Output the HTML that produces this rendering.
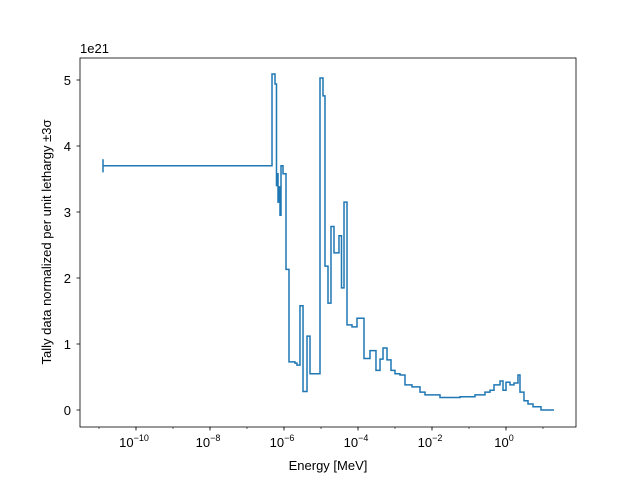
<!DOCTYPE html>
<html><head><meta charset="utf-8"><style>
body{margin:0;background:#fff}
svg text{font-family:"Liberation Sans","DejaVu Sans",sans-serif;fill:#000}
</style></head><body>
<svg id="chart" width="640" height="480" viewBox="0 0 640 480" xmlns="http://www.w3.org/2000/svg">
<rect x="0" y="0" width="640" height="480" fill="#fff"/>
<g id="ticks"></g>
<path id="series" fill="none" stroke="#1f77b4" stroke-width="1.5" stroke-linejoin="miter"/>
<rect x="80" y="58" width="496" height="369" fill="none" stroke="#000" stroke-width="0.8"/>
<text x="80" y="53" font-size="13">1e21</text>
<text x="328" y="470" font-size="13" text-anchor="middle">Energy [MeV]</text>
<text transform="translate(51,242) rotate(-90)" font-size="13" text-anchor="middle">Tally data normalized per unit lethargy ±3σ</text>
</svg>
<script>
const edgesLog = [-10.892,-6.324,-6.243,-6.203,-6.176,-6.162,-6.135,-6.108,-6.081,-6.027,-5.946,-5.865,-5.703,-5.649,-5.568,-5.486,-5.378,-5.297,-5.027,-4.946,-4.892,-4.811,-4.730,-4.649,-4.514,-4.446,-4.378,-4.297,-4.162,-4.027,-3.919,-3.838,-3.676,-3.514,-3.405,-3.324,-3.216,-3.108,-3.0,-2.865,-2.730,-2.541,-2.324,-2.189,-1.784,-1.243,-0.838,-0.568,-0.432,-0.324,-0.162,-0.081,0,0.108,0.216,0.324,0.378,0.486,0.595,0.730,0.946,1.297];
const values = [3.70,5.09,4.94,3.4,3.58,3.15,3.38,2.95,3.7,3.58,2.13,0.73,0.71,0.68,1.58,0.28,1.12,0.55,5.03,4.76,2.18,1.62,2.78,2.38,2.64,1.85,3.15,1.29,1.26,1.39,1.39,0.78,0.9,0.6,0.77,0.94,0.76,0.6,0.55,0.53,0.38,0.35,0.27,0.23,0.19,0.2,0.23,0.27,0.3,0.38,0.44,0.3,0.42,0.38,0.41,0.53,0.27,0.14,0.09,0.05,0.0];
const xTickExp = [-10,-8,-6,-4,-2,0];
const yTicks = [0,1,2,3,4,5];
const xs = l => 284 + (l + 6) * 37;
const ys = v => 410 - v * 66;
const NS = "http://www.w3.org/2000/svg";
let d = "M" + xs(edgesLog[0]) + "," + ys(values[0]);
for (let i = 0; i < values.length; i++) {
  if (i > 0) d += " V" + ys(values[i]);
  d += " H" + xs(edgesLog[i + 1]);
}
document.getElementById('series').setAttribute('d', d);
const g = document.getElementById('ticks');
function line(x1,y1,x2,y2,w){const l=document.createElementNS(NS,'line');l.setAttribute('x1',x1);l.setAttribute('y1',y1);l.setAttribute('x2',x2);l.setAttribute('y2',y2);l.setAttribute('stroke','#000');l.setAttribute('stroke-width',w);g.appendChild(l);return l;}
// error cap at first bin
const cap = line(xs(edgesLog[0]), ys(values[0]+0.1), xs(edgesLog[0]), ys(values[0]-0.1), 1.5);
cap.setAttribute('stroke','#1f77b4');


for (let e = -11; e <= 1; e++) {
  const t = line(xs(e), 427, xs(e), 429, 0.6);
  
  
}
xTickExp.forEach(e => {
  const t = line(xs(e), 427, xs(e), 430.5, 0.8);
  
  
  const tx = document.createElementNS(NS, 'text');
  tx.setAttribute('x', xs(e) - 2);
  tx.setAttribute('y', 447);
  tx.setAttribute('font-size', '13');
  tx.setAttribute('text-anchor', 'middle');
  tx.innerHTML = '10<tspan dy="-6" font-size="9">' + (e < 0 ? '\u2212' + (-e) : e) + '</tspan>';
  
  
  g.appendChild(tx);
});
yTicks.forEach(v => {
  const t = line(76.5, ys(v), 80, ys(v), 0.8);
  
  
  const tx = document.createElementNS(NS, 'text');
  tx.setAttribute('x', 71);
  tx.setAttribute('y', ys(v) + 5);
  tx.setAttribute('font-size', '13');
  tx.setAttribute('text-anchor', 'end');
  tx.textContent = v;
  
  
  g.appendChild(tx);
});
</script>
</body></html>
